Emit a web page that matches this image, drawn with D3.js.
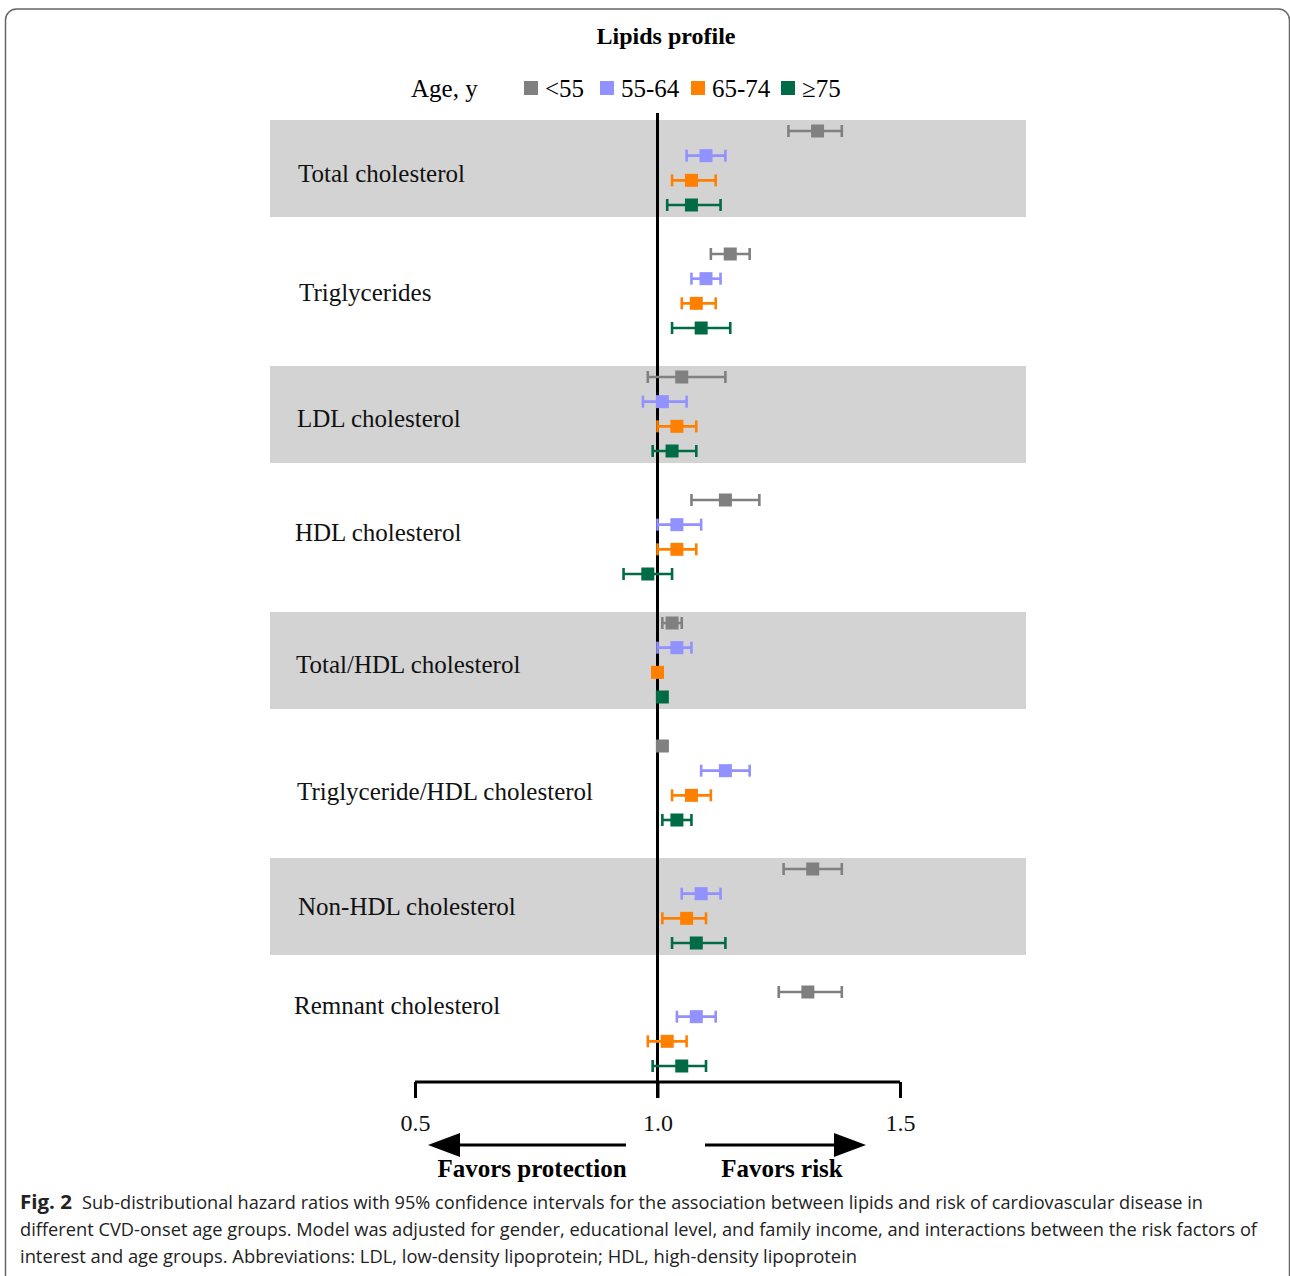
<!DOCTYPE html>
<html>
<head>
<meta charset="utf-8">
<script src="https://cdn.jsdelivr.net/npm/d3@7"></script>
<style>
  body { margin: 0; background: #fff; }
</style>
</head>
<body>
<div id="chart"></div>
<script>
// Lipid measures (rows of the forest plot)
const lipids = [
  "Total cholesterol",
  "Triglycerides",
  "LDL cholesterol",
  "HDL cholesterol",
  "Total/HDL cholesterol",
  "Triglyceride/HDL cholesterol",
  "Non-HDL cholesterol",
  "Remnant cholesterol"
];

const ageGroups = ["<55", "55-64", "65-74", "\u226575"];
const ageColors = ["#808080", "#9191ff", "#ff8000", "#006b45"];

// hazard ratio, lower CI, upper CI — one array per age group, in lipid order
const hrUnder55 = [1.33, 1.15, 1.05, 1.14, 1.03, 1.01, 1.32, 1.31];
const loUnder55 = [1.27, 1.11, 0.98, 1.07, 1.01, 1.00, 1.26, 1.25];
const hiUnder55 = [1.38, 1.19, 1.14, 1.21, 1.05, 1.02, 1.38, 1.38];

const hr55_64 = [1.10, 1.10, 1.01, 1.04, 1.04, 1.14, 1.09, 1.08];
const lo55_64 = [1.06, 1.07, 0.97, 1.00, 1.00, 1.09, 1.05, 1.04];
const hi55_64 = [1.14, 1.13, 1.06, 1.09, 1.07, 1.19, 1.13, 1.12];

const hr65_74 = [1.07, 1.08, 1.04, 1.04, 1.00, 1.07, 1.06, 1.02];
const lo65_74 = [1.03, 1.05, 1.00, 1.00, 0.995, 1.03, 1.01, 0.98];
const hi65_74 = [1.12, 1.12, 1.08, 1.08, 1.005, 1.11, 1.10, 1.06];

const hr75 = [1.07, 1.09, 1.03, 0.98, 1.01, 1.04, 1.08, 1.05];
const lo75 = [1.02, 1.03, 0.99, 0.93, 1.005, 1.01, 1.03, 0.99];
const hi75 = [1.13, 1.15, 1.08, 1.03, 1.015, 1.07, 1.14, 1.10];

const xTicks = [0.5, 1.0, 1.5];

// label vertical offsets inside each group (layout only)
const labelDy = [56, 52, 55, 46, 55, 59, 51, 27];
const labelX = [298, 299, 297, 295, 296, 297, 298, 294];

const captionLines = [
  "Sub-distributional hazard ratios with 95% confidence intervals for the association between lipids and risk of cardiovascular disease in",
  "different CVD-onset age groups. Model was adjusted for gender, educational level, and family income, and interactions between the risk factors of",
  "interest and age groups. Abbreviations: LDL, low-density lipoprotein; HDL, high-density lipoprotein"
];

const series = [
  { hr: hrUnder55, lo: loUnder55, hi: hiUnder55 },
  { hr: hr55_64, lo: lo55_64, hi: hi55_64 },
  { hr: hr65_74, lo: lo65_74, hi: hi65_74 },
  { hr: hr75, lo: lo75, hi: hi75 }
];

const rows = [];
lipids.forEach((lip, i) => {
  ageGroups.forEach((a, j) => {
    rows.push({ lipid: lip, age: a, ai: j, hr: series[j].hr[i], lo: series[j].lo[i], hi: series[j].hi[i] });
  });
});

const W = 1290, H = 1276;
const serif = "'Liberation Serif', 'Times New Roman', serif";

const svg = d3.select("#chart").append("svg")
  .attr("width", W)
  .attr("height", H);

// figure frame
svg.append("rect")
  .attr("x", 5.5).attr("y", 9)
  .attr("width", 1284).attr("height", 1280)
  .attr("rx", 11)
  .attr("fill", "none")
  .attr("stroke", "#666")
  .attr("stroke-width", 1.5);

// scales
const x = d3.scaleLinear().domain([0.5, 1.5]).range([415, 900]);

const yGroup = d3.scaleBand()
  .domain(lipids)
  .range([120, 120 + 123 * lipids.length])
  .paddingInner(0).paddingOuter(0);

const yAge = d3.scalePoint()
  .domain(ageGroups)
  .range([11, 85]);

// alternating grey bands
svg.append("g").selectAll("rect")
  .data(lipids.filter((d, i) => i % 2 === 0))
  .join("rect")
  .attr("x", 270)
  .attr("y", d => yGroup(d))
  .attr("width", 1026 - 270)
  .attr("height", 97)
  .attr("fill", "#d3d3d3");

// category labels
svg.append("g").selectAll("text")
  .data(lipids)
  .join("text")
  .attr("x", (d, i) => labelX[i])
  .attr("y", (d, i) => yGroup(d) + labelDy[i])
  .attr("dominant-baseline", "middle")
  .attr("font-family", serif)
  .attr("font-size", 25)
  .attr("fill", "#111")
  .text(d => d);

// reference line at 1.0
svg.append("line")
  .attr("x1", x(1)).attr("x2", x(1))
  .attr("y1", 113).attr("y2", 1098)
  .attr("stroke", "#000")
  .attr("stroke-width", 3);

// error bars
const rowY = d => yGroup(d.lipid) + yAge(d.age);
const eb = svg.append("g").selectAll("g")
  .data(rows)
  .join("g")
  .attr("stroke", d => ageColors[d.ai])
  .attr("stroke-width", 2.6);

eb.append("line")
  .attr("x1", d => x(d.lo)).attr("x2", d => x(d.hi))
  .attr("y1", rowY).attr("y2", rowY);
eb.append("line")
  .attr("x1", d => x(d.lo)).attr("x2", d => x(d.lo))
  .attr("y1", d => rowY(d) - 6).attr("y2", d => rowY(d) + 6);
eb.append("line")
  .attr("x1", d => x(d.hi)).attr("x2", d => x(d.hi))
  .attr("y1", d => rowY(d) - 6).attr("y2", d => rowY(d) + 6);

const sq = 13;
svg.append("g").selectAll("rect")
  .data(rows)
  .join("rect")
  .attr("x", d => x(d.hr) - sq / 2)
  .attr("y", d => rowY(d) - sq / 2)
  .attr("width", sq).attr("height", sq)
  .attr("fill", d => ageColors[d.ai]);

// bottom axis (bracket style)
const axisY = 1082;
const axisG = svg.append("g")
  .attr("transform", `translate(0,${axisY})`)
  .call(d3.axisBottom(x).tickValues(xTicks).tickSize(16).tickSizeOuter(0).tickFormat(d3.format(".1f")).tickPadding(16));
axisG.select(".domain").attr("stroke-width", 3).attr("d", `M${x(0.5)},0H${x(1.5)}`);
axisG.selectAll(".tick line").attr("stroke-width", 3);
axisG.selectAll(".tick text")
  .attr("font-family", serif)
  .attr("font-size", 24)
  .attr("fill", "#111");

// direction arrows
const arrowY = 1145;
svg.append("line")
  .attr("x1", 626).attr("x2", 455)
  .attr("y1", arrowY).attr("y2", arrowY)
  .attr("stroke", "#000").attr("stroke-width", 3);
svg.append("path")
  .attr("d", `M428,${arrowY}L460,${arrowY - 12}L460,${arrowY + 12}Z`)
  .attr("fill", "#000");
svg.append("line")
  .attr("x1", 705).attr("x2", 840)
  .attr("y1", arrowY).attr("y2", arrowY)
  .attr("stroke", "#000").attr("stroke-width", 3);
svg.append("path")
  .attr("d", `M866,${arrowY}L834,${arrowY - 12}L834,${arrowY + 12}Z`)
  .attr("fill", "#000");

svg.append("text")
  .attr("x", 532).attr("y", 1177)
  .attr("text-anchor", "middle")
  .attr("font-family", serif).attr("font-weight", "bold").attr("font-size", 25)
  .text("Favors protection");
svg.append("text")
  .attr("x", 782).attr("y", 1177)
  .attr("text-anchor", "middle")
  .attr("font-family", serif).attr("font-weight", "bold").attr("font-size", 25)
  .text("Favors risk");

// title
svg.append("text")
  .attr("x", 666).attr("y", 44)
  .attr("text-anchor", "middle")
  .attr("font-family", serif).attr("font-weight", "bold").attr("font-size", 24)
  .text("Lipids profile");

// legend
svg.append("text")
  .attr("x", 411).attr("y", 97)
  .attr("font-family", serif).attr("font-size", 25)
  .text("Age, y");
const legX = [524, 600, 691, 781];
const leg = svg.append("g").selectAll("g")
  .data(ageGroups)
  .join("g")
  .attr("transform", (d, i) => `translate(${legX[i]},81)`);
leg.append("rect")
  .attr("width", 14).attr("height", 14)
  .attr("fill", (d, i) => ageColors[i]);
leg.append("text")
  .attr("x", 21).attr("y", 16)
  .attr("font-family", serif).attr("font-size", 25)
  .text(d => d);

// caption
const capFont = "'Open Sans', 'Noto Sans', sans-serif";
svg.append("text")
  .attr("x", 20).attr("y", 1209)
  .attr("font-family", capFont).attr("font-weight", "bold").attr("font-size", 19)
  .attr("fill", "#222")
  .attr("textLength", 52).attr("lengthAdjust", "spacingAndGlyphs")
  .text("Fig. 2");
const capStart = [82, 20, 20];
const capEnd = [1203, 1257, 857];
svg.append("g").selectAll("text")
  .data(captionLines)
  .join("text")
  .attr("x", (d, i) => capStart[i])
  .attr("y", (d, i) => 1209 + 27 * i)
  .attr("font-family", capFont).attr("font-size", 17.5)
  .attr("fill", "#222")
  .attr("textLength", (d, i) => capEnd[i] - capStart[i])
  .attr("lengthAdjust", "spacingAndGlyphs")
  .text(d => d);
</script>
</body>
</html>
